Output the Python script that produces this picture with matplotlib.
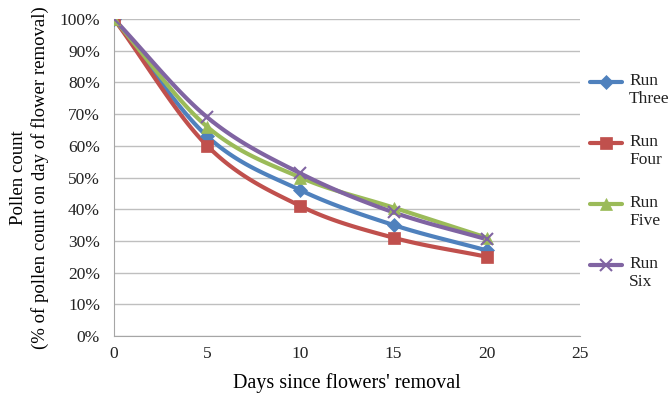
import matplotlib
matplotlib.use('Agg')
import matplotlib.pyplot as plt
from matplotlib.lines import Line2D
from matplotlib.ticker import PercentFormatter
import numpy as np

plt.rcParams['font.family'] = ['Liberation Serif', 'DejaVu Serif']

days = [0, 5, 10, 15, 20]
run_three = [100, 63, 46, 35, 27]
run_four = [100, 60, 41, 31, 25]
run_five = [100, 66, 50, 40.5, 31]
run_six = [100, 69, 51.3, 39, 30.5]

series = [
    ('Run\nThree', run_three, '#4F81BD', 'D', 7),
    ('Run\nFour', run_four, '#C0504D', 's', 9),
    ('Run\nFive', run_five, '#9BBB59', '^', 8),
    ('Run\nSix', run_six, '#8064A2', 'x', 9),
]


def smooth(x, y, n=30):
    # Catmull-Rom style curve through the points (like Excel smoothed lines)
    x = np.asarray(x, float)
    y = np.asarray(y, float)
    px = np.concatenate([[2 * x[0] - x[1]], x, [2 * x[-1] - x[-2]]])
    py = np.concatenate([[2 * y[0] - y[1]], y, [2 * y[-1] - y[-2]]])
    xs, ys = [], []
    t = np.linspace(0, 1, n)
    for i in range(1, len(px) - 2):
        for arr, out in ((px, xs), (py, ys)):
            p0, p1, p2, p3 = arr[i - 1], arr[i], arr[i + 1], arr[i + 2]
            out.extend(0.5 * ((2 * p1) + (-p0 + p2) * t
                              + (2 * p0 - 5 * p1 + 4 * p2 - p3) * t ** 2
                              + (-p0 + 3 * p1 - 3 * p2 + p3) * t ** 3))
    return np.array(xs), np.array(ys)


fig = plt.figure(figsize=(6.69, 4.01), dpi=100)
ax = fig.add_axes([114 / 669, 1 - 336 / 401, (580 - 114) / 669, (336 - 19) / 401])

for label, vals, color, marker, ms in series:
    sx, sy = smooth(days, vals)
    ax.plot(sx, sy, color=color, lw=3, solid_capstyle='round', zorder=3)
    ax.plot(days, vals, linestyle='none', marker=marker, color=color, ms=ms,
            mew=1.5 if marker == 'x' else 0.5, zorder=4)

ax.set_xlim(0, 25)
ax.set_ylim(0, 100)
ax.set_xticks([0, 5, 10, 15, 20, 25])
ax.set_yticks(np.arange(0, 101, 10))
ax.yaxis.set_major_formatter(PercentFormatter(decimals=0))
ax.grid(axis='y', color='#BFBFBF', lw=1)
ax.set_axisbelow(True)
for s in ['top', 'right']:
    ax.spines[s].set_visible(False)
for s in ['left', 'bottom']:
    ax.spines[s].set_color('#A6A6A6')
ax.tick_params(axis='both', labelcolor='#222222', labelsize=12.5, length=0)
ax.tick_params(axis='y', pad=10)
ax.tick_params(axis='x', pad=7)

ax.set_xlabel("Days since flowers' removal", fontsize=14.5, labelpad=8)
ax.set_ylabel("Pollen count\n(% of pollen count on day of flower removal)", fontsize=13.5,
              linespacing=1.25)
ax.yaxis.set_label_coords(-0.14, 0.5)

# legend on the right
y0 = 82
for i, (label, vals, color, marker, ms) in enumerate(series):
    yp = 1 - (y0 + i * 61) / 401
    fig.add_artist(Line2D([590 / 669, 622 / 669], [yp, yp], color=color, lw=3,
                          solid_capstyle='round', transform=fig.transFigure))
    fig.add_artist(Line2D([606 / 669], [yp], marker=marker, color=color, ms=ms,
                          mew=1.5 if marker == 'x' else 0.5, transform=fig.transFigure))
    fig.text(629 / 669, yp + 9 / 401, label, fontsize=12.5, va='top', ha='left',
             linespacing=1.2, color='#222222')

fig.savefig('out.png', dpi=100)
